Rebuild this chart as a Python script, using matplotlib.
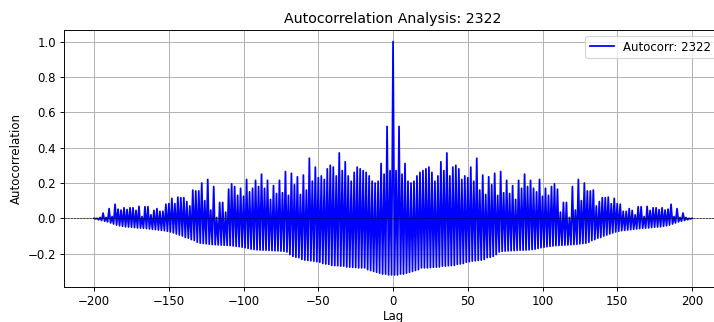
"""
Autocorrelation plot for series 2322 (lags -200..200).
"""

import numpy as np
import matplotlib
matplotlib.use("Agg")
import matplotlib.pyplot as plt


SERIES_ID = "2322"

# Autocorrelation at even lags 0, 2, 4, ..., 200
ACF_EVEN = [
    1.0, 0.27, 0.52, 0.25, 0.31, 0.21, 0.20, 0.21, 0.24, 0.26,
    0.27, 0.28, 0.29, 0.26, 0.21, 0.24, 0.32, 0.27, 0.37, 0.24,
    0.29, 0.30, 0.28, 0.22, 0.24, 0.23, 0.29, 0.21, 0.34, 0.16,
    0.245, 0.135, 0.235, 0.19, 0.255, 0.13, 0.265, 0.145, 0.215, 0.14,
    0.185, 0.107, 0.215, 0.17, 0.25, 0.18, 0.215, 0.17, 0.15, 0.22,
    0.125, 0.17, 0.13, 0.18, 0.195, 0.165, 0.035, 0.09, 0.09, 0.005,
    0.18, 0.047, 0.22, 0.10, 0.20, 0.155, 0.155, 0.16, 0.07, 0.095,
    0.117, 0.117, 0.12, 0.083, 0.113, 0.083, 0.08, 0.04, 0.04, 0.055,
    0.045, 0.02, 0.066, 0.066, 0.01, 0.068, 0.045, 0.06, 0.06, 0.05,
    0.06, 0.047, 0.052, 0.08, 0.01, 0.055, 0.005, 0.03, 0.005, 0.0,
    0.0,
]

# Autocorrelation at odd lags 1, 3, 5, ..., 199
ACF_ODD = [
    -0.32, -0.32, -0.315, -0.315, -0.31, -0.305, -0.30, -0.295, -0.29, -0.28,
    -0.28, -0.28, -0.278, -0.277, -0.276, -0.275, -0.27, -0.27, -0.268, -0.267,
    -0.266, -0.26, -0.258, -0.255, -0.248, -0.245, -0.242, -0.24, -0.238, -0.236,
    -0.232, -0.222, -0.22, -0.215, -0.205, -0.19, -0.186, -0.185, -0.184, -0.183,
    -0.182, -0.181, -0.18, -0.18, -0.179, -0.178, -0.176, -0.174, -0.17, -0.166,
    -0.163, -0.16, -0.158, -0.156, -0.154, -0.153, -0.152, -0.151, -0.15, -0.149,
    -0.148, -0.146, -0.144, -0.142, -0.14, -0.135, -0.125, -0.12, -0.112, -0.108,
    -0.10, -0.094, -0.088, -0.082, -0.077, -0.073, -0.07, -0.068, -0.066, -0.064,
    -0.062, -0.06, -0.058, -0.056, -0.055, -0.054, -0.052, -0.05, -0.049, -0.048,
    -0.045, -0.042, -0.038, -0.032, -0.026, -0.02, -0.016, -0.012, -0.008, -0.003,
]

MAX_LAG = 200
DPI = 85


def build_acf():
    """Merge even/odd lags and mirror to negative lags (acf is symmetric)."""
    half = np.empty(MAX_LAG + 1)
    half[0::2] = ACF_EVEN
    half[1::2] = ACF_ODD
    acf = np.concatenate([half[:0:-1], half])
    lags = np.arange(-MAX_LAG, MAX_LAG + 1)
    return lags, acf


def main():
    lags, acf = build_acf()

    fig = plt.figure(figsize=(714 / DPI, 322 / DPI), dpi=DPI)
    ax = fig.add_axes([0.090, 0.110, 0.921, 0.797])

    ax.plot(lags, acf, color="blue", linewidth=1.5, label=f"Autocorr: {SERIES_ID}")
    ax.axhline(0, color="black", linestyle="--", linewidth=0.5)

    ax.set_title(f"Autocorrelation Analysis: {SERIES_ID}")
    ax.set_xlabel("Lag", labelpad=1.5)
    ax.set_ylabel("Autocorrelation")
    ax.grid(True)
    ax.legend(loc="upper right")

    fig.savefig("out.png", dpi=DPI)
    plt.close(fig)


if __name__ == "__main__":
    main()
